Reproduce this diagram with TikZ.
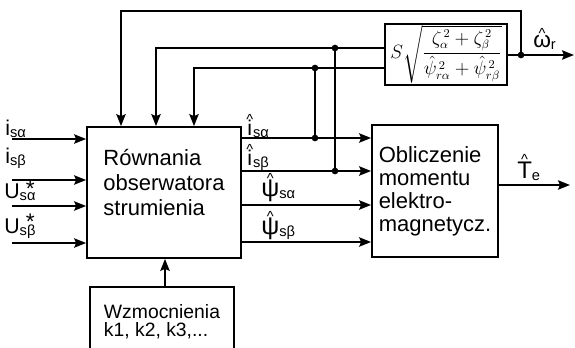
\documentclass[tikz,border=0pt]{standalone}
\usepackage{amsmath}
\usepackage[no-math]{fontspec}
\setmainfont{Liberation Sans}
\usetikzlibrary{arrows.meta}

% letter with a caret on top, and lowered subscripts
\newcommand{\hatover}[2][-4pt]{\leavevmode\vbox{\offinterlineskip\halign{\hfil##\hfil\cr{\fontsize{11}{11}\selectfont\textasciicircum}\cr\noalign{\kern#1}#2\cr}}}
\newcommand{\sub}[1]{\raisebox{-2pt}{\fontsize{11}{11}\selectfont #1}}
\newcommand{\starsub}[1]{\raisebox{-2pt}{\vbox{\offinterlineskip\halign{\hfil##\hfil\cr\hspace{4pt}{\fontsize{17}{17}\selectfont *}\cr\noalign{\kern-3pt}\fontsize{11}{11}\selectfont #1\cr}}}}

\begin{document}
\begin{tikzpicture}[
    x=0.75pt,y=-0.75pt,
    block/.style={rectangle,draw,line width=1.3pt,align=left,font=\fontsize{16.5}{18.75}\selectfont},
    sig/.style={line width=1.3pt,-{Stealth[length=9pt,width=7pt,inset=1.5pt]}},
    wire/.style={line width=1.3pt},
    dot/.style={circle,fill,inner sep=0pt,minimum size=5pt},
    lbl/.style={inner sep=0pt,anchor=base west,font=\fontsize{16}{16}\selectfont}
]
    \clip (0,0) rectangle (575,347);

    % blocks
    \node[block,minimum width=115.5pt,minimum height=98.25pt] (obs) at (164,192.5) {R\'ownania\\obserwatora\\strumienia\\[-3pt]};
    \node[block,minimum width=94.5pt,minimum height=99pt,font=\fontsize{16.5}{17.25}\selectfont] (tq) at (435,191) {Obliczenie\\momentu\\elektro-\\magnetycz.};
    \node[block,minimum width=91.5pt,minimum height=44.25pt,inner sep=1pt,font=\fontsize{13.5}{15}\selectfont] (sq) at (446,54.5) {$S\sqrt{\dfrac{\zeta_\alpha^{\,2}+\zeta_\beta^{\,2}}{\hat\psi_{r\alpha}^{\,2}+\hat\psi_{r\beta}^{\,2}}}$};
    \node[block,minimum width=108pt,minimum height=51.75pt,font=\fontsize{14.5}{13.5}\selectfont] (gain) at (162,321.5) {Wzmocnienia\\k1, k2, k3,...};

    % inputs
    \coordinate (in1) at (12,139);
    \coordinate (in2) at (12,180);
    \coordinate (in3) at (12,206);
    \coordinate (in4) at (12,243);
    \draw[sig] (in1) -- (in1 -| obs.west);
    \draw[sig] (in2) -- (in2 -| obs.west);
    \draw[sig] (in3) -- (in3 -| obs.west);
    \draw[sig] (in4) -- (in4 -| obs.west);
    \node[lbl] (lisa) at (5,135) {i\sub{sα}};
    \node[lbl] (lisb) at (5,163) {i\sub{sβ}};
    \node[lbl] (lusa) at (4,198) {U\starsub{sα}};
    \node[lbl] (lusb) at (4,233) {U\starsub{sβ}};

    % observer outputs
    \coordinate (o1) at (241,138);
    \coordinate (o2) at (241,171);
    \coordinate (o3) at (241,205);
    \coordinate (o4) at (241,242);
    \draw[sig] (o1) -- (o1 -| tq.west);
    \draw[sig] (o2) -- (o2 -| tq.west);
    \draw[sig] (o3) -- (o3 -| tq.west);
    \draw[sig] (o4) -- (o4 -| tq.west);
    \node[lbl] (lia) at (246,135) {\hatover{i}\sub{sα}};
    \node[lbl] (lib) at (246,165) {\hatover{i}\sub{sβ}};
    \node[lbl] (lpa) at (261,196) {\hatover[-3pt]{\fontsize{19}{19}\selectfont ψ}\sub{sα}};
    \node[lbl] (lpb) at (261,234) {\hatover[-3pt]{\fontsize{19}{19}\selectfont ψ}\sub{sβ}};

    % feedback to the observer
    \node[dot] (da) at (315,138) {};
    \node[dot] (db) at (335,171) {};
    \node[dot] (dc) at (315,68) {};
    \node[dot] (dd) at (335,48) {};
    \draw[wire] (da.center) -- (dc.center);
    \draw[wire] (db.center) -- (dd.center);
    \coordinate (f1) at (156,48);
    \coordinate (f2) at (194,68);
    \draw[sig] (sq.west |- f1) -- (f1) -- (f1 |- obs.north);
    \draw[sig] (sq.west |- f2) -- (f2) -- (f2 |- obs.north);

    % speed output and top loop
    \coordinate (wo) at (574,55);
    \node[dot] (dw) at (521,55) {};
    \draw[sig] (sq.east |- wo) -- (wo);
    \coordinate (t1) at (521,11);
    \coordinate (t2) at (121,11);
    \draw[sig] (dw.center) -- (t1) -- (t2) -- (t2 |- obs.north);
    \node[lbl] (lw) at (533,47) {\hatover[-3pt]{\fontsize{17}{17}\selectfont ω}\sub{r}};

    % torque output
    \coordinate (te) at (570,185);
    \draw[sig] (tq.east |- te) -- (te);
    \node[lbl] (lte) at (517,178) {\hatover[-2pt]{\fontsize{18}{18}\selectfont T}\sub{e}};

    % gains
    \coordinate (g1) at (165,287);
    \draw[sig] (g1) -- (g1 |- obs.south);
\end{tikzpicture}
\end{document}
